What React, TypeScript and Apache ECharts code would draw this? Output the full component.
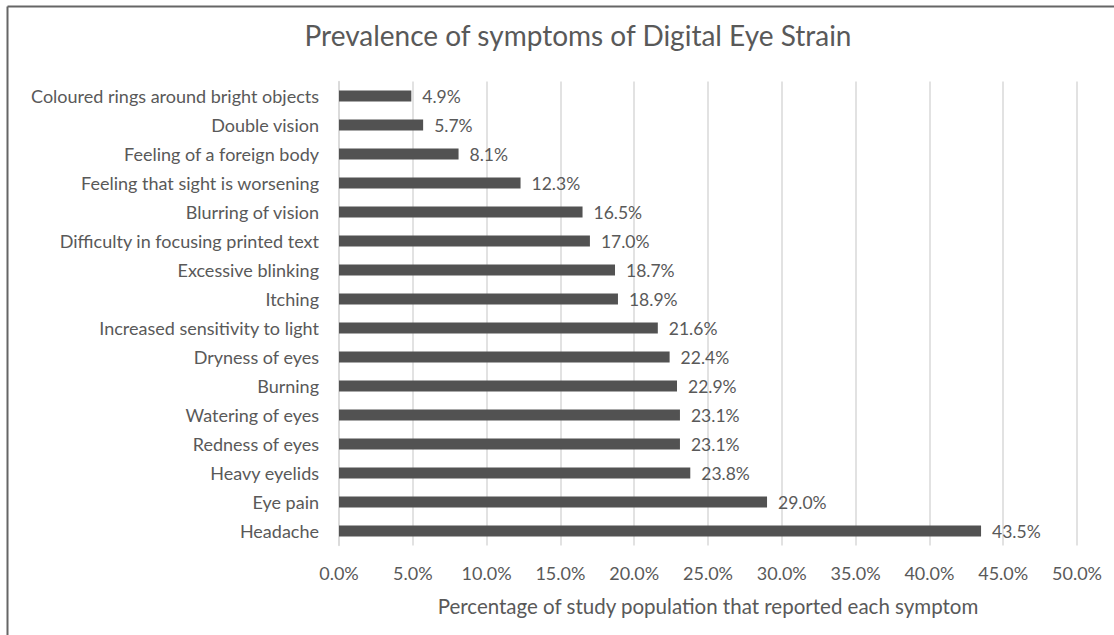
import React, { useEffect, useRef } from "react";
import * as echarts from "echarts";

const titleText = "Prevalence of symptoms of Digital Eye Strain";
const axisName = "Percentage of study population that reported each symptom";
const symptoms = [
  "Coloured rings around bright objects",
  "Double vision",
  "Feeling of a foreign body",
  "Feeling that sight is worsening",
  "Blurring of vision",
  "Difficulty in focusing printed text",
  "Excessive blinking",
  "Itching",
  "Increased sensitivity to light",
  "Dryness of eyes",
  "Burning",
  "Watering of eyes",
  "Redness of eyes",
  "Heavy eyelids",
  "Eye pain",
  "Headache",
];
const percentages = [4.9, 5.7, 8.1, 12.3, 16.5, 17.0, 18.7, 18.9, 21.6, 22.4, 22.9, 23.1, 23.1, 23.8, 29.0, 43.5];
const axisMin = 0;
const axisMax = 50;
const axisStep = 5;

const FONT = "Lato, 'Open Sans', sans-serif";
const TEXT = "#595959";

export default function App() {
  const ref = useRef<HTMLDivElement>(null);
  useEffect(() => {
    const chart = echarts.init(ref.current!, null, { renderer: "svg" });
    chart.setOption({
      animation: false,
      backgroundColor: "#ffffff",
      title: {
        text: titleText,
        left: 573,
        top: 16,
        textAlign: "center",
        textStyle: { fontFamily: FONT, fontSize: 28, fontWeight: "normal", color: TEXT },
      },
      graphic: [
        { type: "line", shape: { x1: 7.5, y1: 6.5, x2: 1114, y2: 6.5 }, style: { stroke: "#666", lineWidth: 2 } },
        { type: "line", shape: { x1: 7.5, y1: 6.5, x2: 7.5, y2: 635 }, style: { stroke: "#666", lineWidth: 2 } },
      ],
      grid: { left: 339, right: 37, top: 81.5, bottom: 89.5, containLabel: false },
      xAxis: {
        type: "value",
        min: axisMin,
        max: axisMax,
        interval: axisStep,
        name: axisName,
        nameLocation: "middle",
        nameGap: 50,
        nameTextStyle: { fontFamily: FONT, fontSize: 20.5, color: TEXT },
        axisLine: { show: false },
        axisTick: { show: false },
        axisLabel: {
          margin: 18,
          fontFamily: FONT,
          fontSize: 18,
          color: TEXT,
          formatter: (v: number) => v.toFixed(1) + "%",
        },
        splitLine: { show: true, lineStyle: { color: "#d9d9d9", width: 1.5 } },
      },
      yAxis: {
        type: "category",
        data: symptoms,
        inverse: true,
        axisLine: { show: true, lineStyle: { color: "#d9d9d9", width: 1.5 } },
        axisTick: { show: false },
        axisLabel: { margin: 20, fontFamily: FONT, fontSize: 18, color: TEXT },
      },
      series: [
        {
          type: "bar",
          data: percentages,
          barWidth: 11,
          itemStyle: { color: "#525252" },
          label: {
            show: true,
            position: "right",
            distance: 11,
            fontFamily: FONT,
            fontSize: 17.5,
            color: TEXT,
            formatter: (p: any) => Number(p.value).toFixed(1) + "%",
          },
        },
      ],
    });
    return () => chart.dispose();
  }, []);
  return (
    <div
      ref={ref}
      style={{ position: "fixed", left: 0, top: 0, width: 1114, height: 635 }}
    />
  );
}
